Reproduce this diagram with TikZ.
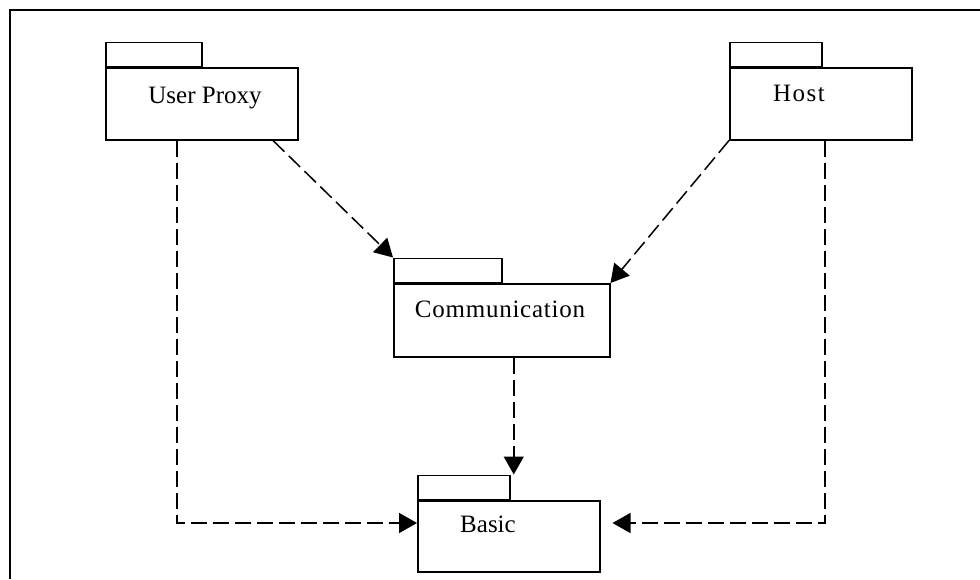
\documentclass[tikz,border=0pt]{standalone}
\usepackage{fontspec}
\setmainfont{Liberation Serif}
\usetikzlibrary{arrows.meta,calc}
\begin{document}
\begin{tikzpicture}[x=1pt,y=-1pt,
  pkgbody/.style={draw, line width=1.5pt, minimum width=#1, minimum height=72pt,
    anchor=north west, inner sep=0pt},
  pkgtab/.style={draw, line width=1.5pt, minimum width=#1, minimum height=24pt,
    anchor=south west, inner sep=0pt},
  pkglabel/.style={anchor=base, inner sep=0pt, font=\fontsize{25}{30}\selectfont},
  spaced/.style={font=\fontsize{25}{30}\selectfont\addfontfeatures{LetterSpace=#1}},
  dep/.style={line width=1.5pt, dash pattern=on 16pt off 6pt,
    -{Triangle[length=18pt,width=20pt]}}
]
\useasboundingbox (0,0) rectangle (980,579);
% outer frame (only its top and left sides fall inside the page)
\draw[line width=1.5pt] (10,579) -- (10,10) -- (980,10);

% packages: body with a tab on top
\node[pkgbody=192pt] (up) at (105,67) {};
\node[pkgtab=96pt] (upt) at (up.north west) {};
\node[pkglabel] (uplbl) at (205,103) {User Proxy};

\node[pkgbody=182pt] (host) at (729,67) {};
\node[pkgtab=92pt] (hostt) at (host.north west) {};
\node[pkglabel, spaced=6] (hostlbl) at (799,101) {Host};

\node[pkgbody=216pt, minimum height=73pt] (comm) at (393,283) {};
\node[pkgtab=108pt] (commt) at (comm.north west) {};
\node[pkglabel, spaced=3] (commlbl) at (500,317) {Communication};

\node[pkgbody=182pt, minimum height=71pt] (basic) at (417,500) {};
\node[pkgtab=92pt] (basict) at (basic.north west) {};
\node[pkglabel] (basiclbl) at (488,532) {Basic};

% connector end points
\coordinate (upA) at ($(up.south west)+(168,0)$);
\coordinate (upB) at ($(up.south west)+(72,0)$);
\coordinate (hostB) at ($(host.south west)+(96,0)$);
\coordinate (commB) at ($(comm.south)+(12,0)$);
\coordinate (basicL) at ($(basic.north west)+(0,23)$);
\coordinate (basicR) at ($(basic.north east)+(12,23)$);

% dependencies
\draw[dep] (upA) -- (commt.north west);
\draw[dep] (host.south west) -- (comm.north east);
\draw[dep] (commB) -- (commB |- basict.north);
\draw[dep] (upB) |- (basicL);
\draw[dep] (hostB) |- (basicR);
\end{tikzpicture}
\end{document}
